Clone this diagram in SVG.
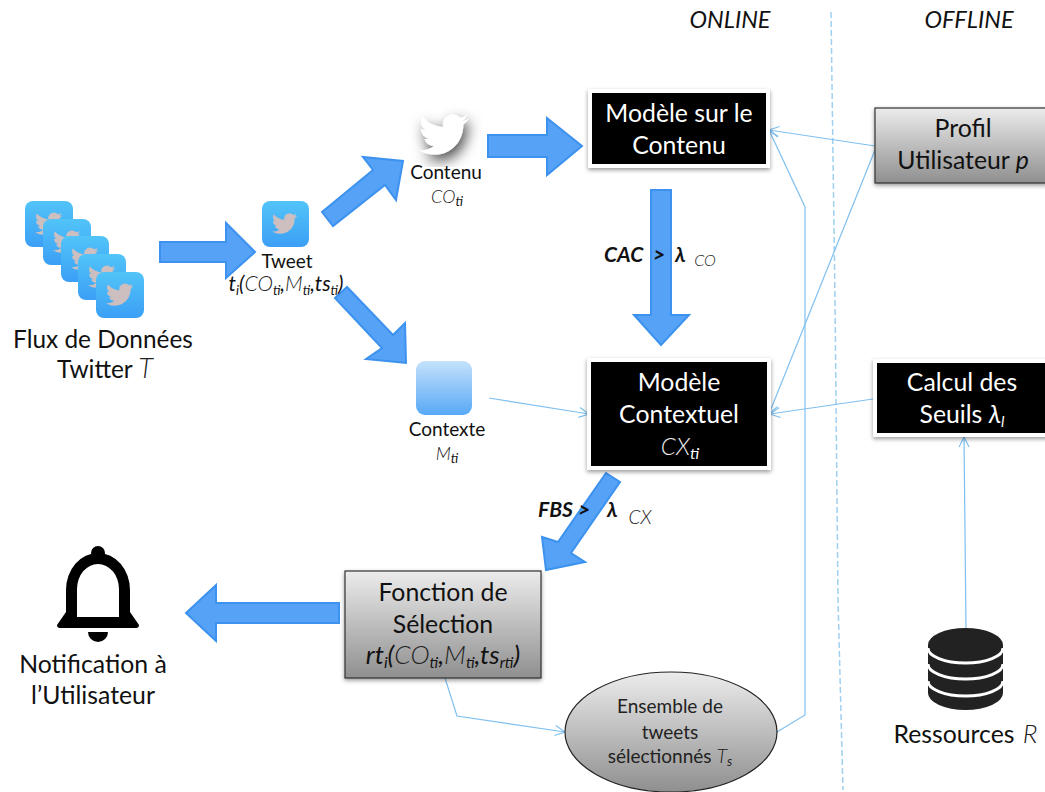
<svg xmlns="http://www.w3.org/2000/svg" width="1045" height="792" viewBox="0 0 1045 792">
<style>
text{font-family:"Lato","Open Sans","Liberation Sans",sans-serif;fill:#111;text-anchor:middle}
.big{font-size:24.4px}
.mid{font-size:24.8px}
.w{fill:#fff}
.sm{font-size:19px}
.el{font-size:19px;fill:#222}
.it{font-style:italic}
.sc{font-style:italic;font-weight:300;fill:#222}
.lw{fill:#eee}
.b{font-weight:700;font-style:italic;font-size:21px;text-anchor:start}
.arrow{fill:#55a2f6;stroke:#3c92ee;stroke-width:2}
.thin{fill:none;stroke:#7fc0f0;stroke-width:1.2}
.dash{fill:none;stroke:#9fd0f0;stroke-width:1.5;stroke-dasharray:6 3}
.blk{fill:#000;stroke:#fff;stroke-width:4;filter:url(#sh)}
.gry{fill:url(#gr);stroke:#333;stroke-width:1.2;filter:url(#sh)}
</style>
<defs>
<linearGradient id="gr" x1="0" y1="0" x2="0" y2="1"><stop offset="0" stop-color="#ececec"/><stop offset="1" stop-color="#8f8f8f"/></linearGradient>
<linearGradient id="ic" x1="0" y1="0" x2="0" y2="1"><stop offset="0" stop-color="#52c4f8"/><stop offset="1" stop-color="#3b9ff6"/></linearGradient>
<linearGradient id="cx" x1="0" y1="0" x2="0" y2="1"><stop offset="0" stop-color="#c4e2fb"/><stop offset="1" stop-color="#58a8f6"/></linearGradient>
<filter id="sh" x="-10%" y="-10%" width="125%" height="125%"><feDropShadow dx="0" dy="2" stdDeviation="2" flood-color="#000" flood-opacity=".4"/></filter>
<filter id="bs" x="-30%" y="-30%" width="160%" height="160%"><feDropShadow dx="1.5" dy="3" stdDeviation="3.5" flood-color="#000" flood-opacity=".7"/></filter>
<path id="bird" d="M23.953 4.57a10 10 0 01-2.825.775 4.958 4.958 0 002.163-2.723c-.951.555-2.005.959-3.127 1.184a4.92 4.92 0 00-8.384 4.482C7.69 8.095 4.067 6.13 1.64 3.162a4.822 4.822 0 00-.666 2.475c0 1.71.87 3.213 2.188 4.096a4.904 4.904 0 01-2.228-.616v.06a4.923 4.923 0 003.946 4.827 4.996 4.996 0 01-2.212.085 4.936 4.936 0 004.604 3.417 9.867 9.867 0 01-6.102 2.105c-.39 0-.779-.023-1.17-.067a13.995 13.995 0 007.557 2.209c9.053 0 13.998-7.496 13.998-13.985 0-.21 0-.42-.015-.63A9.935 9.935 0 0024 4.59z"/>
<g id="icon"><rect width="48" height="46" rx="8" fill="url(#ic)"/><use href="#bird" transform="translate(10 9) scale(1.14)" fill="#cdbfc0"/></g>
<marker id="oa" viewBox="0 0 12 12" refX="11" refY="6" markerWidth="12" markerHeight="12" markerUnits="userSpaceOnUse" orient="auto"><path d="M1 1L11 6L1 11" fill="none" stroke="#7fc0f0" stroke-width="1.2"/></marker>
</defs>

<g id="connectors">
<path class="dash" d="M831 12L835 300L838 600L843 790"/>
<path class="thin" marker-end="url(#oa)" d="M875 146L769 130"/>
<path class="thin" marker-end="url(#oa)" d="M875 150L769 414"/>
<path class="thin" marker-end="url(#oa)" d="M873 399L770 414"/>
<path class="thin" marker-end="url(#oa)" d="M489 398L589 414"/>
<path class="thin" marker-end="url(#oa)" d="M966 628L964 437"/>
<path class="thin" marker-end="url(#oa)" d="M777 732L805 715L805 207L769 130"/>
<path class="thin" marker-end="url(#oa)" d="M445 678L457 716L565 732"/>
<path class="arrow" d="M160 242H226V223L255 252L226 278V262H160Z"/>
<path class="arrow" d="M322 212L373 170L363 157L403 161L396 200L385 185L333 226Z"/>
<path class="arrow" d="M335 298L347 287L393 335L405 323L406 363L366 359L382 348Z"/>
<path class="arrow" d="M488 135H547V118L582 146L547 175V157H488Z"/>
<path class="arrow" d="M651 190H671V315H689L661 345L634 315H651Z"/>
<path class="arrow" d="M606 473L620 482L571 553L585 562L546 570L542 537L558 542Z"/>
<path class="arrow" d="M339 603H216V585L186 613L216 641V623H339Z"/>
</g>

<g id="header">
<text class="it" font-size="23.5" x="730" y="28">ONLINE</text>
<text class="it" font-size="23.5" x="969" y="28">OFFLINE</text>
</g>

<g id="flux">
<use href="#icon" x="25" y="201"/><use href="#icon" x="43" y="219"/><use href="#icon" x="61" y="236"/><use href="#icon" x="78" y="254"/><use href="#icon" x="96" y="272"/>
<text class="big" x="103" y="348">Flux de Données</text>
<text class="big" x="105" y="378">Twitter <tspan class="sc" font-size="27">T</tspan></text>
</g>

<g id="tweet">
<rect x="262" y="201" width="47" height="46" rx="8" fill="url(#ic)"/>
<use href="#bird" transform="translate(272 211) scale(1.05)" fill="#cdbfc0"/>
<text class="sm" x="287" y="268">Tweet</text>
<text x="286" y="291" font-size="21"><tspan class="it">t<tspan font-size="13" dy="4">i</tspan><tspan dy="-4">(</tspan></tspan><tspan class="sc">CO</tspan><tspan class="it" font-size="13" dy="4">ti</tspan><tspan class="it" dy="-4">,</tspan><tspan class="sc">M</tspan><tspan class="it" font-size="13" dy="4">ti</tspan><tspan class="it" dy="-4">,ts</tspan><tspan class="it" font-size="13" dy="4">ti</tspan><tspan class="it" dy="-4">)</tspan></text>
</g>

<g id="contenu">
<use href="#bird" transform="translate(419 110) scale(2.05)" fill="#fff" filter="url(#bs)"/>
<text class="sm" x="446" y="179">Contenu</text>
<text x="447" y="203" font-size="18"><tspan class="sc">CO</tspan><tspan class="it" font-size="13" dy="3">ti</tspan></text>
</g>

<g id="contexte">
<rect x="416" y="361" width="56" height="54" rx="9" fill="url(#cx)"/>
<text class="sm" x="447" y="436">Contexte</text>
<text x="447" y="460" font-size="18"><tspan class="sc">M</tspan><tspan class="it" font-size="13" dy="3">ti</tspan></text>
</g>

<g id="modele-contenu">
<rect class="blk" x="590" y="91" width="178" height="75"/>
<text class="mid w" x="679" y="122">Modèle sur le</text>
<text class="mid w" x="679" y="154">Contenu</text>
</g>

<g id="modele-contextuel">
<rect class="blk" x="589" y="360" width="180" height="108"/>
<text class="mid w" x="679" y="391">Modèle</text>
<text class="mid w" x="679" y="423">Contextuel</text>
<text class="w" x="680" y="455" font-size="24"><tspan class="sc lw">CX</tspan><tspan class="it w" font-size="16" dy="4">ti</tspan></text>
</g>

<g id="profil">
<rect class="gry" x="875" y="108" width="172" height="75"/>
<text class="mid" x="963" y="137">Profil</text>
<text class="mid" x="963" y="169">Utilisateur <tspan class="it">p</tspan></text>
</g>

<g id="calcul">
<rect class="blk" x="875" y="361" width="172" height="74"/>
<text class="mid w" x="962" y="391">Calcul des</text>
<text class="mid w" x="962" y="423">Seuils <tspan class="it">λ</tspan><tspan class="it" font-size="15" dy="4">l</tspan></text>
</g>

<g id="labels">
<text class="b" x="604" y="262">CAC</text><text class="b" x="653" y="262" fill="#0a1a50">&gt;</text><text class="b" x="675" y="262">λ</text><text class="sc" x="705" y="266" font-size="16">CO</text>
<text class="b" x="538" y="517">FBS</text><text class="b" x="578" y="517">&gt;</text><text class="b" x="607" y="517">λ</text><text class="sc" x="640" y="524" font-size="19">CX</text>
</g>

<g id="selection">
<rect class="gry" x="345" y="571" width="196" height="107"/>
<text class="mid" x="443" y="601">Fonction de</text>
<text class="mid" x="443" y="633">Sélection</text>
<text x="443" y="664" font-size="26"><tspan class="it">rt<tspan font-size="16" dy="4">i</tspan><tspan dy="-4">(</tspan></tspan><tspan class="sc">CO</tspan><tspan class="it" font-size="15" dy="4">ti</tspan><tspan class="it" dy="-4">,</tspan><tspan class="sc">M</tspan><tspan class="it" font-size="15" dy="4">ti</tspan><tspan class="it" dy="-4">,ts</tspan><tspan class="it" font-size="15" dy="4">rti</tspan><tspan class="it" dy="-4">)</tspan></text>
</g>

<g id="notification">
<circle cx="98" cy="553" r="7"/>
<path fill-rule="evenodd" d="M66 612V590A32 37 0 0 1 130 590V612L139 625Q139 628 136 628H60Q57 628 57 625ZM77 617H119V589A21 25 0 0 0 77 589Z"/>
<path d="M88 632H108A10 10 0 0 1 88 632Z"/>
<text class="mid" x="93" y="673">Notification à</text>
<text class="mid" x="93" y="704">l’Utilisateur</text>
</g>

<g id="ensemble">
<ellipse cx="671" cy="732" rx="106" ry="60" fill="url(#gr)" stroke="#222" stroke-width="1.2"/>
<text class="el" x="670" y="713">Ensemble de</text>
<text class="el" x="670" y="739">tweets</text>
<text class="el" x="670" y="763">sélectionnés <tspan class="sc" font-size="20">T</tspan><tspan class="it" font-size="13" dy="3">s</tspan></text>
</g>

<g id="ressources">
<path fill="#222" d="M928 645A37.5 17 0 0 1 1003 645V693A37.5 17 0 0 1 928 693Z"/>
<path fill="none" stroke="#fff" stroke-width="3" d="M928 648A37.5 15 0 0 0 1003 648M928 664A37.5 15 0 0 0 1003 664M928 681A37.5 15 0 0 0 1003 681"/>
<text class="mid" x="954" y="743">Ressources</text>
<text class="sc" x="1030" y="743" font-size="26">R</text>
</g>
</svg>
